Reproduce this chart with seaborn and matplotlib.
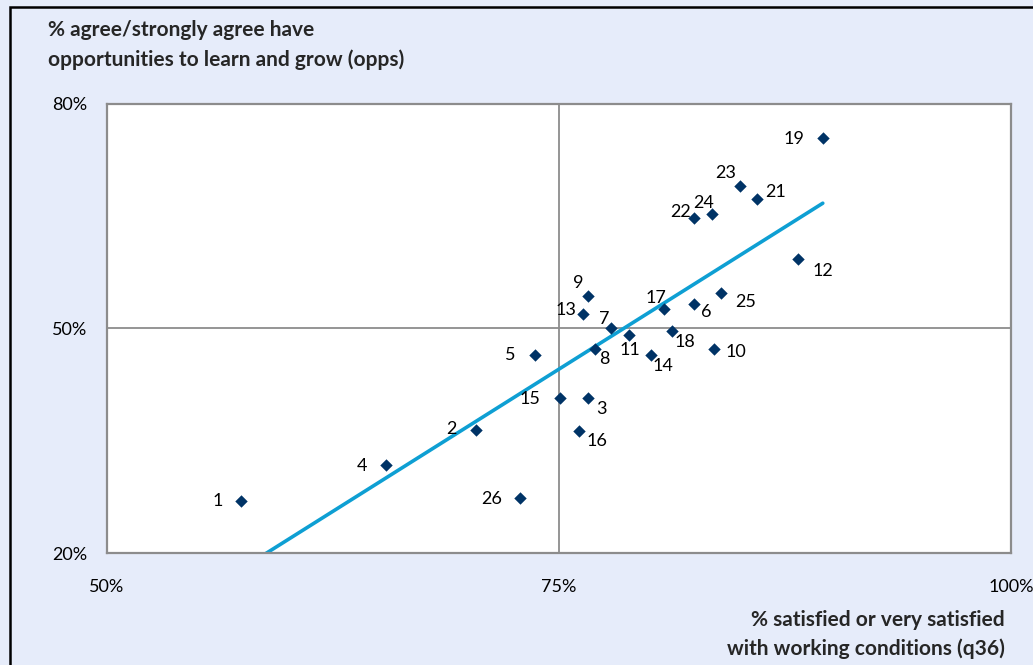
import matplotlib
matplotlib.use("Agg")
import matplotlib.pyplot as plt
import matplotlib.patches as patches
import seaborn as sns
import pandas as pd

# unit ids and the two survey scores (%)
units = ["1", "2", "3", "4", "5", "6", "7", "8", "9", "10", "11", "12", "13",
         "14", "15", "16", "17", "18", "19", "21", "22", "23", "24", "25", "26"]
satisfied = [57.4, 70.4, 76.6, 65.45, 73.7, 82.45, 77.9, 77.0, 76.6, 83.55, 78.85, 88.2, 76.35,
             80.07, 75.08, 76.08, 80.79, 81.23, 89.59, 85.94, 82.45, 84.99, 83.44, 83.94, 72.87]
opps = [27.0, 36.5, 40.65, 31.8, 46.5, 53.3, 50.0, 47.2, 54.3, 47.2, 49.1, 59.3, 52.0,
        46.5, 40.65, 36.25, 52.67, 49.73, 75.5, 67.36, 64.8, 69.1, 65.35, 54.8, 27.3]

x_ticks = [50, 75, 100]
y_ticks = [20, 50, 80]

# where each number label sits relative to its marker (pixels)
label_offsets = {
    "1": (-23, 0), "2": (-24, 1), "3": (14, -11), "4": (-24, -1), "5": (-25, 0),
    "6": (13, -8), "7": (-7, 9), "8": (9, -10), "9": (-10, 13), "10": (22, -3),
    "11": (1, -15), "12": (25, -12), "13": (-17, 4), "14": (12, -11), "15": (-30, -1),
    "16": (18, -10), "17": (-8, 11), "18": (13, -11), "19": (-29, -1), "21": (19, 7),
    "22": (-13, 6), "23": (-14, 13), "24": (-8, 11), "25": (25, -9), "26": (-29, -1),
}

df = pd.DataFrame({"unit": units, "satisfied": satisfied, "opps": opps})

sns.set_theme(style="white")
plt.rcParams["font.family"] = ["Lato", "DejaVu Sans"]

W, H = 1033, 665
bg = "#E6ECFA"
navy = "#003366"
trend = "#0E9FD3"
grey = "#8C8C8C"

fig = plt.figure(figsize=(W / 100, H / 100), dpi=100, facecolor=bg)
ax = fig.add_axes([107 / W, 1 - 553 / H, (1011 - 107) / W, (553 - 104) / H])
ax.set_facecolor("white")

sns.regplot(data=df, x="satisfied", y="opps", scatter=False, ci=None, ax=ax,
            line_kws={"color": trend, "lw": 2.6, "zorder": 2})
sns.scatterplot(data=df, x="satisfied", y="opps", marker="D", s=40, color=navy,
                edgecolor=navy, linewidth=0, ax=ax, zorder=3)

for u, xv, yv in zip(units, satisfied, opps):
    dx, dy = label_offsets[u]
    ax.annotate(u, (xv, yv), xytext=(dx, dy), textcoords="offset pixels",
                ha="center", va="center", fontsize=13, color="black")

ax.set_xlim(50, 100)
ax.set_ylim(20, 80)
ax.set_xticks(x_ticks)
ax.set_yticks(y_ticks)
ax.set_xticklabels([f"{t}%" for t in x_ticks])
ax.set_yticklabels([f"{t}%" for t in y_ticks])
ax.tick_params(axis="both", length=0, labelsize=13, colors="black")
ax.tick_params(axis="x", pad=19)
ax.tick_params(axis="y", pad=14)
ax.grid(True, color=grey, lw=1.3)
ax.set_axisbelow(True)
for s in ax.spines.values():
    s.set_visible(True)
    s.set_color(grey)
    s.set_linewidth(1.6)
ax.set_xlabel("")
ax.set_ylabel("")

title_kw = dict(fontsize=15, fontweight="bold", va="center")
fig.text(48 / W, 1 - 30 / H, "% agree/strongly agree have", ha="left", **title_kw)
fig.text(48 / W, 1 - 60 / H, "opportunities to learn and grow (opps)", ha="left", **title_kw)
fig.text(1005 / W, 1 - 620 / H, "% satisfied or very satisfied", ha="right", **title_kw)
fig.text(1005 / W, 1 - 649 / H, "with working conditions (q36)", ha="right", **title_kw)

fig.add_artist(patches.Rectangle((10 / W, -0.1), 1.2, 1 - 7 / H + 0.1,
                                 transform=fig.transFigure, fill=False,
                                 edgecolor="black", lw=1.8))

fig.savefig("out.png", dpi=100, facecolor=bg)
